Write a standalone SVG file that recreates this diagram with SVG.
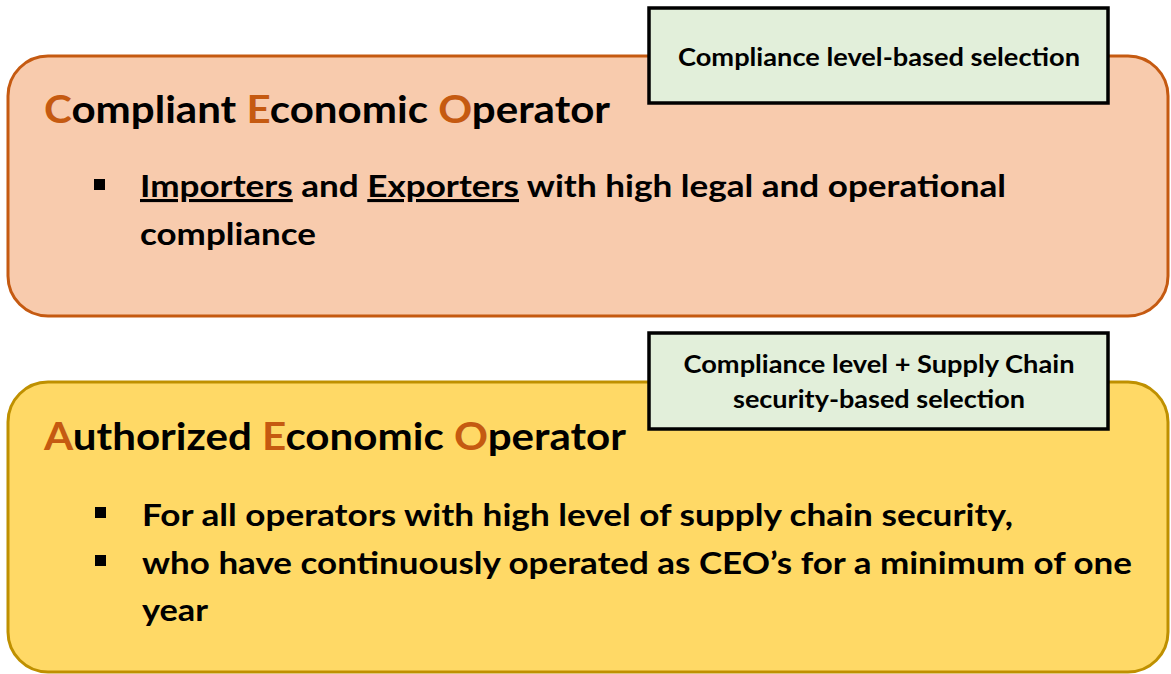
<svg xmlns="http://www.w3.org/2000/svg" width="1171" height="674" viewBox="0 0 1171 674">
  <style>
    text { font-family: Lato, "Open Sans", "Liberation Sans", sans-serif; font-weight: 700; fill: #000; }
    .panel-ceo { fill: #F8CBAD; stroke: #C55A11; stroke-width: 3; }
    .panel-aeo { fill: #FFD966; stroke: #BF9000; stroke-width: 3; }
    .tag { fill: #E2EFDA; stroke: #000; stroke-width: 3.5; }
    .title { font-size: 38px; }
    .body { font-size: 31px; }
    .tagtext { font-size: 24px; text-anchor: middle; }
    .accent { fill: #C55A11; }
    .bullet { fill: #000; }
    .ul { text-decoration: underline; }
  </style>

  <!-- Compliant Economic Operator panel -->
  <g id="ceo-panel">
    <rect class="panel-ceo" x="8" y="56" width="1160" height="260" rx="40" ry="40"/>
    <text class="title" x="44" y="123" textLength="566" lengthAdjust="spacingAndGlyphs"><tspan class="accent">C</tspan>ompliant <tspan class="accent">E</tspan>conomic <tspan class="accent">O</tspan>perator</text>
    <rect class="bullet" x="94" y="179" width="11" height="11"/>
    <text class="body" x="140" y="197" textLength="866" lengthAdjust="spacingAndGlyphs"><tspan class="ul">Importers</tspan> and <tspan class="ul">Exporters</tspan> with high legal and operational</text>
    <text class="body" x="140" y="245" textLength="176" lengthAdjust="spacingAndGlyphs">compliance</text>
  </g>

  <!-- selection tag for the CEO panel -->
  <g id="ceo-tag">
    <rect class="tag" x="649" y="8" width="459" height="95"/>
    <text class="tagtext" x="879" y="66" textLength="402" lengthAdjust="spacingAndGlyphs">Compliance level-based selection</text>
  </g>

  <!-- Authorized Economic Operator panel -->
  <g id="aeo-panel">
    <rect class="panel-aeo" x="8" y="382" width="1160" height="290" rx="40" ry="40"/>
    <text class="title" x="44" y="450" textLength="582" lengthAdjust="spacingAndGlyphs"><tspan class="accent">A</tspan>uthorized <tspan class="accent">E</tspan>conomic <tspan class="accent">O</tspan>perator</text>
    <rect class="bullet" x="95" y="507" width="11" height="11"/>
    <text class="body" x="142" y="526" textLength="871" lengthAdjust="spacingAndGlyphs">For all operators with high level of supply chain security,</text>
    <rect class="bullet" x="95" y="555" width="11" height="11"/>
    <text class="body" x="142" y="574" textLength="990" lengthAdjust="spacingAndGlyphs">who have continuously operated as CEO’s for a minimum of one</text>
    <text class="body" x="142" y="621" textLength="66" lengthAdjust="spacingAndGlyphs">year</text>
  </g>

  <!-- selection tag for the AEO panel -->
  <g id="aeo-tag">
    <rect class="tag" x="649" y="333" width="459" height="96"/>
    <text class="tagtext" x="879" y="373" textLength="391" lengthAdjust="spacingAndGlyphs">Compliance level + Supply Chain</text>
    <text class="tagtext" x="879" y="408" textLength="292" lengthAdjust="spacingAndGlyphs">security-based selection</text>
  </g>
</svg>
